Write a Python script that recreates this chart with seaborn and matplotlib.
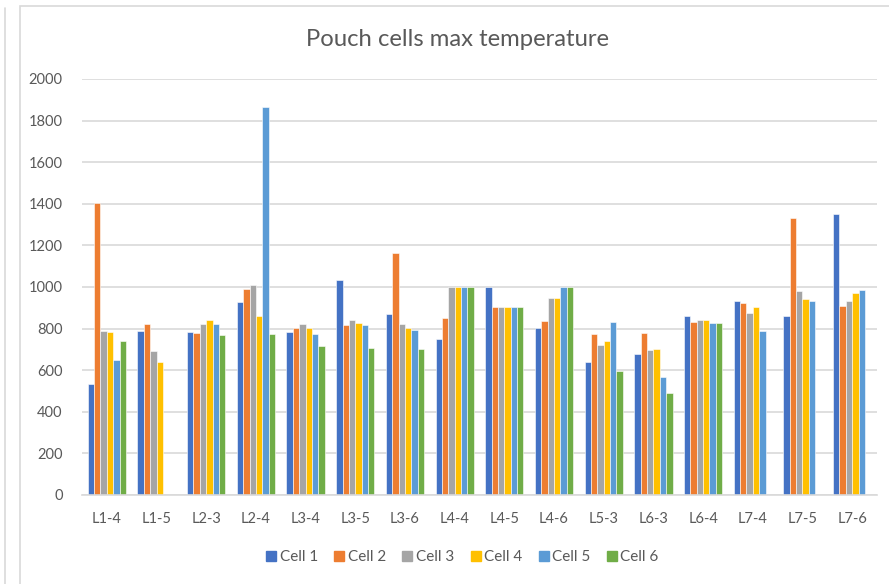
import numpy as np
import pandas as pd
import matplotlib
matplotlib.use("Agg")
import matplotlib.pyplot as plt
from matplotlib.patches import Rectangle
from matplotlib.lines import Line2D
import seaborn as sns

tests = ["L1-4", "L1-5", "L2-3", "L2-4", "L3-4", "L3-5", "L3-6", "L4-4",
         "L4-5", "L4-6", "L5-3", "L6-3", "L6-4", "L7-4", "L7-5", "L7-6"]
nan = np.nan
cell1 = [532, 790, 782, 930, 782, 1036, 871, 750, 1000, 802, 641, 678, 861, 935, 861, 1352]
cell2 = [1402, 824, 778, 989, 805, 819, 1164, 851, 902, 837, 774, 779, 834, 925, 1332, 911]
cell3 = [787, 691, 824, 1012, 824, 843, 824, 1000, 902, 947, 723, 699, 839, 875, 981, 935]
cell4 = [782, 641, 843, 861, 805, 829, 802, 1000, 902, 947, 742, 704, 843, 906, 944, 972]
cell5 = [649, nan, 824, 1864, 774, 819, 792, 1000, 902, 1000, 832, 568, 829, 787, 935, 986]
cell6 = [742, nan, 770, 774, 714, 709, 704, 1000, 902, 1000, 595, 491, 829, nan, nan, nan]
series_names = ["Cell 1", "Cell 2", "Cell 3", "Cell 4", "Cell 5", "Cell 6"]
yticks = [0, 200, 400, 600, 800, 1000, 1200, 1400, 1600, 1800, 2000]
title = "Pouch cells max temperature"

colors = ["#4472C4", "#ED7D31", "#A5A5A5", "#FFC000", "#5B9BD5", "#70AD47"]

rows = []
for name, vals in zip(series_names, [cell1, cell2, cell3, cell4, cell5, cell6]):
    for t, v in zip(tests, vals):
        rows.append({"Test": t, "Cell": name, "Temp": v})
df = pd.DataFrame(rows)

sns.set_theme(style="white")
plt.rcParams["font.family"] = ["Lato", "DejaVu Sans"]

W, H = 889, 584
fig = plt.figure(figsize=(W / 100, H / 100), dpi=100)
ax = fig.add_axes([82 / W, 1 - 495 / H, 795 / W, 416 / H])

sns.barplot(data=df, x="Test", y="Temp", hue="Cell", order=tests,
            hue_order=series_names, palette=colors, saturation=1,
            width=0.77, edgecolor="white", linewidth=0.4, ax=ax,
            legend=True, errorbar=None)

ax.set_ylim(0, 2000)
ax.set_xlim(-0.5, len(tests) - 0.5)
ax.set_yticks(yticks)
ax.set_yticklabels([str(v) for v in yticks])
ax.yaxis.grid(True, color="#D9D9D9", linewidth=1.2)
ax.set_axisbelow(True)
for s in ["top", "right", "left"]:
    ax.spines[s].set_visible(False)
ax.spines["bottom"].set_color("#D9D9D9")
ax.spines["bottom"].set_linewidth(1.2)
ax.tick_params(axis="both", length=0, labelsize=10.5, colors="#595959")
ax.tick_params(axis="y", pad=14)
ax.tick_params(axis="x", pad=12)
ax.set_xlabel("")
ax.set_ylabel("")

fig.text(458 / W, 1 - 40 / H, title, ha="center", va="center",
         fontsize=17.2, color="#595959")

ax.legend_.remove()
sq = [Line2D([0], [0], marker="s", linestyle="", markersize=6.5,
             markerfacecolor=c, markeredgecolor=c) for c in colors]
fig.legend(sq, series_names, loc="center", bbox_to_anchor=(461 / W, 1 - 557 / H),
           ncol=6, frameon=False, fontsize=11, labelcolor="#595959",
           handletextpad=0.05, columnspacing=0.9, handlelength=1.0)

# chart frame
fig.patches.append(Rectangle((20 / W, -0.1), 1.2, 1 - 6 / H + 0.1,
                             transform=fig.transFigure, fill=False,
                             edgecolor="#D9D9D9", linewidth=1.2))
fig.lines.append(Line2D([5 / W, 5 / W], [0, 1 - 8 / H], transform=fig.transFigure,
                        color="#D9D9D9", linewidth=1.2))

fig.savefig("out.png", dpi=100, facecolor="white")
